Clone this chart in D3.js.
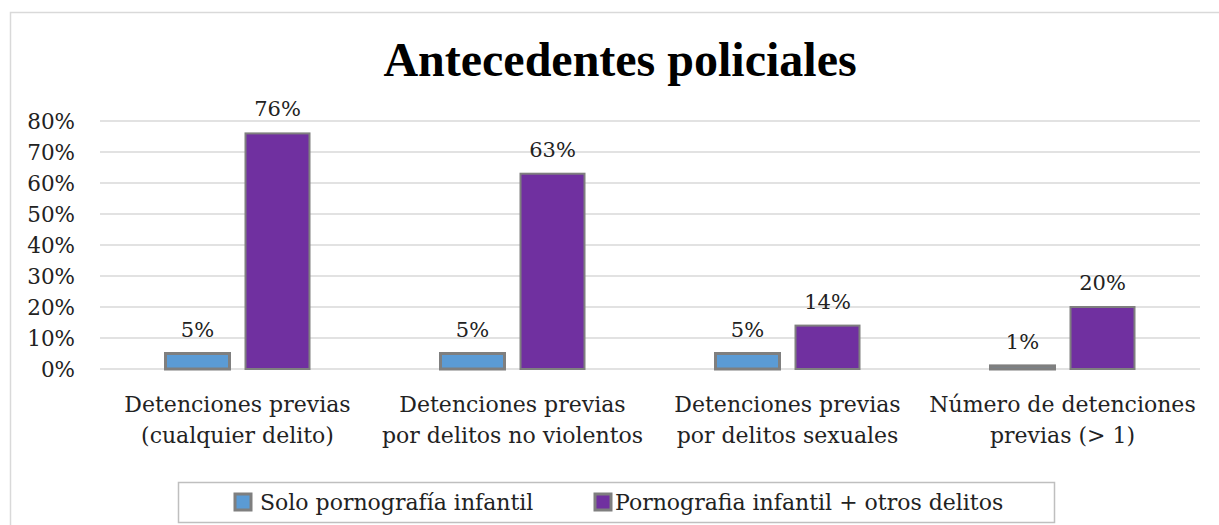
<!DOCTYPE html>
<html>
<head>
<meta charset="utf-8">
<script src="https://cdn.jsdelivr.net/npm/d3@7"></script>
<style>
  body { margin: 0; background: #fff; }
  text { font-family: 'DejaVu Serif', serif; }
  text.title { font-family: 'Liberation Serif', 'Times New Roman', serif; }
</style>
</head>
<body>
<div id="chart"></div>
<script>
const categories = [
  ['Detenciones previas', '(cualquier delito)'],
  ['Detenciones previas', 'por delitos no violentos'],
  ['Detenciones previas', 'por delitos sexuales'],
  ['Número de detenciones', 'previas (> 1)']
]
const seriesNames = ['Solo pornografía infantil', 'Pornografia infantil + otros delitos']
const soloValues = [5, 5, 5, 1]
const otrosValues = [76, 63, 14, 20]
const yTicks = [0, 10, 20, 30, 40, 50, 60, 70, 80]
const colors = ['#5b9bd5', '#7030a0']

const width = 1219, height = 525
const margin = { top: 121, right: 19, bottom: 156, left: 100 }
const innerW = width - margin.left - margin.right
const innerH = height - margin.top - margin.bottom

const svg = d3.select('#chart').append('svg')
  .attr('width', width)
  .attr('height', height)

// chart border
svg.append('rect')
  .attr('x', 10.5).attr('y', 12.5)
  .attr('width', 1240).attr('height', 540)
  .attr('fill', 'none')
  .attr('stroke', '#d9d9d9')
  .attr('stroke-width', 1.5)

svg.append('text')
  .attr('class', 'title')
  .attr('x', 620).attr('y', 76)
  .attr('text-anchor', 'middle')
  .attr('font-size', '48px')
  .attr('font-weight', 'bold')
  .attr('fill', '#000')
  .text('Antecedentes policiales')

const g = svg.append('g')
  .attr('transform', 'translate(' + margin.left + ',' + margin.top + ')')

const x0 = d3.scaleBand()
  .domain(d3.range(categories.length))
  .range([0, innerW])

const x1 = d3.scaleBand()
  .domain([0, 1])
  .range([x0.bandwidth() / 2 - 72, x0.bandwidth() / 2 + 72])
  .paddingInner(0.2)

const y = d3.scaleLinear()
  .domain([0, 80])
  .range([innerH, 0])

// gridlines
g.selectAll('.grid')
  .data(yTicks)
  .enter().append('line')
    .attr('x1', 0).attr('x2', innerW)
    .attr('y1', d => y(d)).attr('y2', d => y(d))
    .attr('stroke', '#d9d9d9')
    .attr('stroke-width', 1.5)

// y axis labels
g.selectAll('.ytick')
  .data(yTicks)
  .enter().append('text')
    .attr('x', -25)
    .attr('y', d => y(d))
    .attr('dy', '0.35em')
    .attr('text-anchor', 'end')
    .attr('font-size', '21.5px')
    .attr('fill', '#222')
    .text(d => d + '%')

const groups = g.selectAll('.group')
  .data(categories.map((c, i) => ({ c, i, vals: [soloValues[i], otrosValues[i]] })))
  .enter().append('g')
    .attr('transform', d => 'translate(' + x0(d.i) + ',0)')

groups.selectAll('rect')
  .data(d => d.vals.map((v, s) => ({ v, s })))
  .enter().append('rect')
    .attr('x', d => x1(d.s))
    .attr('y', d => y(d.v))
    .attr('width', x1.bandwidth())
    .attr('height', d => innerH - y(d.v))
    .attr('fill', d => colors[d.s])
    .attr('stroke', '#7f7f7f')
    .attr('stroke-width', d => d.s === 0 ? 3 : 2)

groups.selectAll('.val')
  .data(d => d.vals.map((v, s) => ({ v, s })))
  .enter().append('text')
    .attr('x', d => x1(d.s) + x1.bandwidth() / 2)
    .attr('y', d => y(d.v) - 17)
    .attr('text-anchor', 'middle')
    .attr('font-size', '21px')
    .attr('fill', '#222')
    .text(d => d.v + '%')

// category labels
groups.append('text')
  .attr('x', x0.bandwidth() / 2)
  .attr('y', innerH + 43)
  .attr('text-anchor', 'middle')
  .attr('font-size', '22px')
  .attr('fill', '#222')
  .selectAll('tspan')
  .data(d => d.c)
  .enter().append('tspan')
    .attr('x', x0.bandwidth() / 2)
    .attr('dy', (d, i) => i === 0 ? 0 : 31)
    .text(d => d)

// legend
const legend = svg.append('g')
svg.insert('rect', 'g')
  .attr('x', 178.5).attr('y', 482.5)
  .attr('width', 876).attr('height', 40)
  .attr('fill', '#fff')
  .attr('stroke', '#bfbfbf')
  .attr('stroke-width', 1.5)

const legendX = [235, 595]
seriesNames.forEach((name, i) => {
  legend.append('rect')
    .attr('x', legendX[i]).attr('y', 494)
    .attr('width', 16).attr('height', 16)
    .attr('fill', colors[i])
    .attr('stroke', '#7f7f7f')
    .attr('stroke-width', 3)
  legend.append('text')
    .attr('x', legendX[i] + (i === 0 ? 25 : 20)).attr('y', 510)
    .attr('font-size', '22px')
    .attr('fill', '#222')
    .text(name)
})
</script>
</body>
</html>
